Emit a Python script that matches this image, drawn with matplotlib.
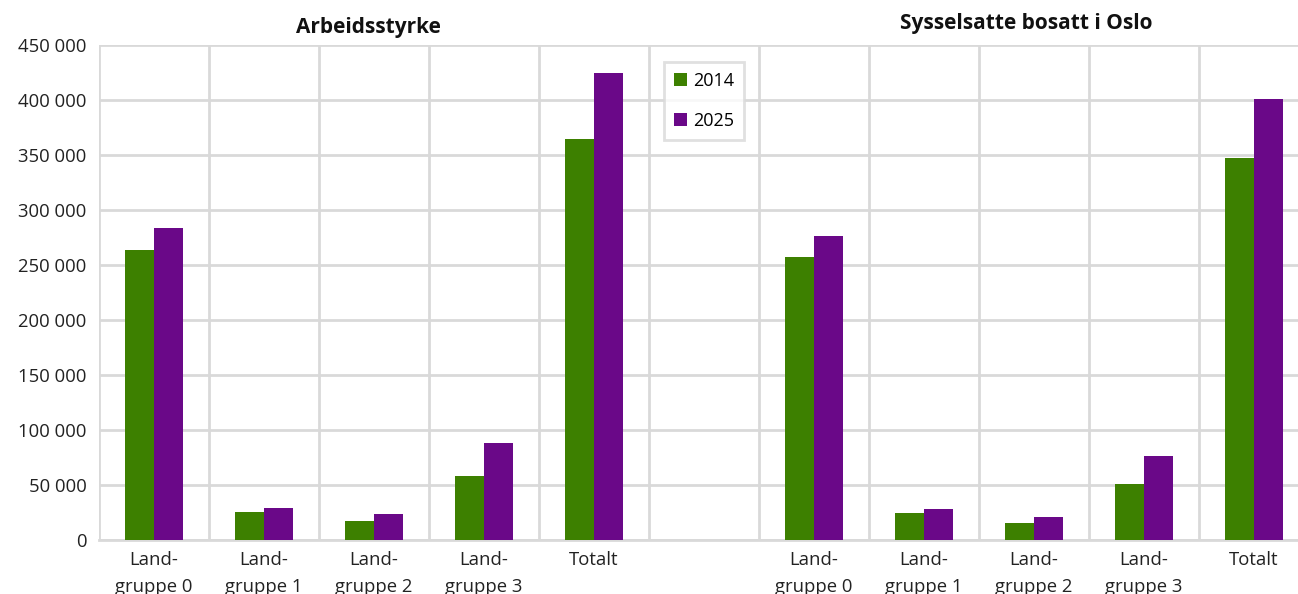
import matplotlib
matplotlib.use("Agg")
import matplotlib.pyplot as plt
import numpy as np

plt.rcParams['font.family'] = ['Open Sans', 'DejaVu Sans']

categories = ["Land-\ngruppe 0", "Land-\ngruppe 1", "Land-\ngruppe 2", "Land-\ngruppe 3", "Totalt"]
panels = ["Arbeidsstyrke", "Sysselsatte bosatt i Oslo"]
series = ["2014", "2025"]
arb_2014 = [263600, 25700, 17500, 57900, 364500]
arb_2025 = [283600, 29000, 23300, 87900, 424500]
sys_2014 = [257300, 24800, 15800, 50600, 347300]
sys_2025 = [276400, 27900, 20900, 76400, 401200]
yticks = list(range(0, 450001, 50000))

green = "#3d8000"
purple = "#6a0888"
grid = "#d9d9d9"

W, H = 1298, 594
fig = plt.figure(figsize=(W / 100, H / 100), dpi=100)
left, right, bottom, top = 99, 1309, 540, 45
ax = fig.add_axes([left / W, 1 - bottom / H, (right - left) / W, (bottom - top) / H])

n = len(categories)
pos_left = np.arange(n)
pos_right = np.arange(n) + n + 1
bw = 0.264

ax.bar(pos_left - bw / 2, arb_2014, bw, color=green, label=series[0], zorder=3)
ax.bar(pos_left + bw / 2, arb_2025, bw, color=purple, label=series[1], zorder=3)
ax.bar(pos_right - bw / 2, sys_2014, bw, color=green, zorder=3)
ax.bar(pos_right + bw / 2, sys_2025, bw, color=purple, zorder=3)

ax.set_xlim(-0.5, 2 * n + 0.5)
ax.set_ylim(0, 450000)
ax.set_yticks(yticks)
ax.set_yticklabels([f"{v:,}".replace(",", " ") for v in yticks])
ax.set_xticks(list(pos_left) + list(pos_right))
ax.set_xticklabels(categories + categories)
ax.set_xticks(np.arange(-0.5, 2 * n + 0.6, 1.0), minor=True)
ax.tick_params(axis='both', which='both', length=0, labelsize=13.3, colors="#222222")
ax.tick_params(axis='x', which='major', pad=8)
ax.tick_params(axis='y', pad=9)
for t in ax.get_xticklabels():
    t.set_linespacing(1.62)

ax.grid(True, axis='y', color=grid, linewidth=2, zorder=0)
ax.grid(True, axis='x', which='minor', color=grid, linewidth=2, zorder=0)
ax.grid(False, axis='x', which='major')
for s in ax.spines.values():
    s.set_visible(False)
ax.spines['bottom'].set_visible(True)
ax.spines['bottom'].set_color(grid)
ax.spines['bottom'].set_linewidth(2)
ax.set_axisbelow(True)

fig.text(368 / W, 1 - 28 / H, panels[0], ha='center', va='center', fontsize=15, fontweight='bold', color="#111111")
fig.text(1026 / W, 1 - 24 / H, panels[1], ha='center', va='center', fontsize=15, fontweight='bold', color="#111111")

leg = ax.legend(loc='upper left', bbox_to_anchor=(664 / W, 1 - 62 / H), bbox_transform=fig.transFigure,
                frameon=True, fancybox=False, edgecolor=grid, handlelength=0.75, handleheight=0.75,
                handletextpad=0.3, labelspacing=1.2, fontsize=13, borderpad=0.55, borderaxespad=0)
leg.get_frame().set_linewidth(2)

fig.savefig("out.png", dpi=100)
